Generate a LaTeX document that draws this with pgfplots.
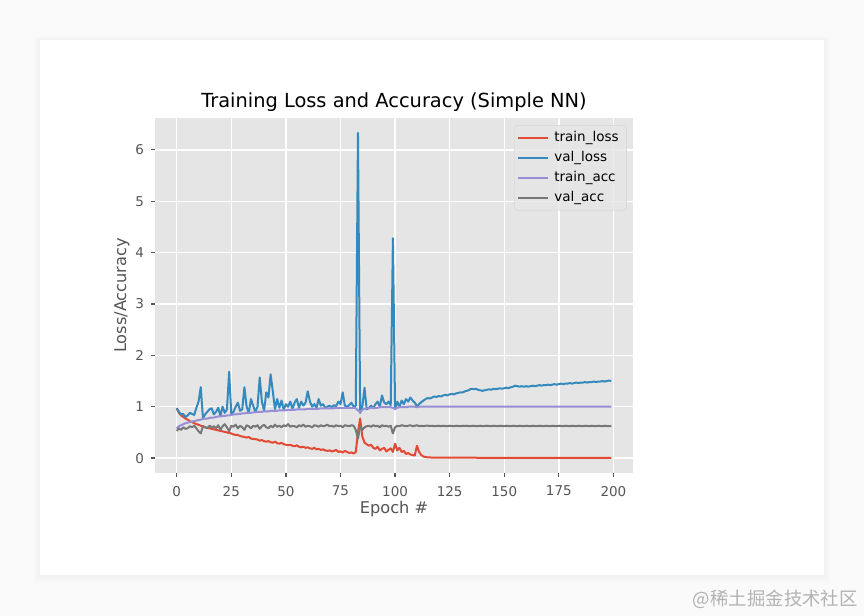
\documentclass[border=0pt]{standalone}
\usepackage{fontspec}
\setmainfont{DejaVu Sans}
\newfontfamily\cjk{Noto Sans CJK SC}
\usepackage{pgfplots}
\pgfplotsset{compat=1.18}
\usepackage{pgfplotstable}
\definecolor{ggbg}{HTML}{E5E5E5}
\definecolor{ggred}{HTML}{E24A33}
\definecolor{ggblue}{HTML}{348ABD}
\definecolor{ggpurple}{HTML}{988ED5}
\definecolor{gggray}{HTML}{777777}
\definecolor{ggtext}{HTML}{555555}

\pgfplotstableread{
e tl vl ta va
0 0.97 0.97 0.58 0.53
1 0.88 0.90 0.62 0.58
2 0.83 0.85 0.64 0.55
3 0.80 0.86 0.66 0.60
4 0.77 0.80 0.68 0.57
5 0.75 0.83 0.69 0.58
6 0.72 0.88 0.70 0.62
7 0.70 0.86 0.71 0.60
8 0.68 0.84 0.72 0.63
9 0.66 0.98 0.73 0.58
10 0.65 1.10 0.74 0.52
11 0.63 1.38 0.75 0.48
12 0.62 0.78 0.76 0.62
13 0.60 0.85 0.77 0.60
14 0.59 0.90 0.77 0.58
15 0.58 0.95 0.78 0.63
16 0.57 0.97 0.79 0.60
17 0.56 0.85 0.79 0.62
18 0.55 0.90 0.80 0.58
19 0.54 0.98 0.81 0.64
20 0.53 0.82 0.81 0.55
21 0.52 1.00 0.82 0.62
22 0.51 0.88 0.82 0.66
23 0.50 0.95 0.83 0.60
24 0.49 1.68 0.83 0.52
25 0.48 0.85 0.84 0.63
26 0.46 0.90 0.85 0.61
27 0.45 1.00 0.85 0.65
28 0.45 1.08 0.86 0.58
29 0.43 0.92 0.86 0.63
30 0.42 0.95 0.87 0.60
31 0.41 1.38 0.87 0.55
32 0.40 1.00 0.88 0.64
33 0.41 0.88 0.88 0.62
34 0.38 1.15 0.88 0.58
35 0.37 1.02 0.89 0.63
36 0.37 0.90 0.89 0.61
37 0.36 1.00 0.90 0.64
38 0.34 1.57 0.90 0.57
39 0.35 1.10 0.90 0.62
40 0.33 0.92 0.91 0.65
41 0.32 1.28 0.91 0.60
42 0.33 1.18 0.91 0.58
43 0.31 1.63 0.92 0.63
44 0.30 1.30 0.92 0.60
45 0.32 0.95 0.92 0.65
46 0.29 1.15 0.92 0.61
47 0.28 0.98 0.93 0.63
48 0.30 1.12 0.93 0.60
49 0.27 0.94 0.93 0.64
50 0.26 1.05 0.93 0.62
51 0.25 1.00 0.94 0.66
52 0.26 1.10 0.94 0.61
53 0.24 0.96 0.94 0.63
54 0.23 1.08 0.94 0.62
55 0.25 1.15 0.95 0.60
56 0.22 0.98 0.95 0.64
57 0.21 1.10 0.95 0.62
58 0.22 1.02 0.95 0.65
59 0.20 1.08 0.95 0.61
60 0.21 1.30 0.96 0.63
61 0.19 1.10 0.96 0.62
62 0.18 1.00 0.96 0.60
63 0.20 1.05 0.96 0.64
64 0.17 0.98 0.96 0.63
65 0.18 1.15 0.96 0.61
66 0.16 1.02 0.97 0.64
67 0.17 1.05 0.97 0.62
68 0.15 0.98 0.97 0.63
69 0.14 1.00 0.97 0.65
70 0.15 1.02 0.97 0.62
71 0.13 0.99 0.97 0.63
72 0.14 1.03 0.97 0.61
73 0.16 1.01 0.98 0.64
74 0.12 1.10 0.98 0.62
75 0.13 1.05 0.98 0.63
76 0.11 1.28 0.98 0.60
77 0.14 1.02 0.98 0.64
78 0.12 1.00 0.98 0.63
79 0.10 1.03 0.98 0.62
80 0.11 1.08 0.98 0.64
81 0.09 1.00 0.98 0.63
82 0.12 1.02 0.97 0.55
83 0.50 6.33 0.93 0.38
84 0.77 0.88 0.89 0.62
85 0.42 1.00 0.94 0.55
86 0.30 1.37 0.96 0.60
87 0.27 0.95 0.97 0.62
88 0.24 0.98 0.97 0.63
89 0.26 1.02 0.98 0.61
90 0.20 0.97 0.98 0.64
91 0.18 1.05 0.98 0.62
92 0.22 1.10 0.98 0.63
93 0.15 1.00 0.99 0.60
94 0.18 1.22 0.99 0.64
95 0.20 1.08 0.99 0.62
96 0.13 1.05 0.99 0.63
97 0.16 1.10 0.99 0.61
98 0.19 1.03 0.99 0.63
99 0.12 4.28 0.98 0.48
100 0.28 0.95 0.96 0.60
101 0.15 1.10 0.98 0.63
102 0.20 1.00 0.99 0.62
103 0.12 1.12 0.99 0.64
104 0.14 1.05 0.99 0.63
105 0.08 1.15 0.99 0.62
106 0.10 1.10 1.00 0.63
107 0.07 1.18 1.00 0.64
108 0.06 1.12 1.00 0.62
109 0.05 1.08 1.00 0.63
110 0.24 1.01 0.99 0.64
111 0.12 1.05 1.00 0.62
112 0.06 1.09 1.00 0.63
113 0.03 1.12 1.00 0.62
114 0.02 1.15 1.00 0.63
115 0.015 1.17 1.00 0.63
116 0.012 1.16 1.00 0.625
117 0.011 1.18 1.00 0.63
118 0.010 1.20 1.00 0.62
119 0.010 1.19 1.00 0.625
120 0.010 1.21 1.00 0.63
121 0.009 1.20 1.00 0.62
122 0.009 1.22 1.00 0.63
123 0.009 1.23 1.00 0.625
124 0.009 1.22 1.00 0.62
125 0.008 1.24 1.00 0.63
126 0.008 1.25 1.00 0.625
127 0.008 1.24 1.00 0.62
128 0.008 1.26 1.00 0.63
129 0.008 1.27 1.00 0.625
130 0.008 1.28 1.00 0.62
131 0.007 1.28 1.00 0.63
132 0.007 1.30 1.00 0.625
133 0.007 1.31 1.00 0.63
134 0.007 1.33 1.00 0.62
135 0.007 1.35 1.00 0.625
136 0.007 1.34 1.00 0.63
137 0.007 1.35 1.00 0.62
138 0.006 1.33 1.00 0.625
139 0.006 1.32 1.00 0.63
140 0.006 1.31 1.00 0.62
141 0.006 1.32 1.00 0.625
142 0.006 1.33 1.00 0.63
143 0.006 1.34 1.00 0.625
144 0.006 1.33 1.00 0.62
145 0.006 1.35 1.00 0.63
146 0.006 1.34 1.00 0.625
147 0.005 1.35 1.00 0.62
148 0.005 1.36 1.00 0.63
149 0.005 1.35 1.00 0.625
150 0.005 1.36 1.00 0.62
151 0.005 1.37 1.00 0.63
152 0.005 1.36 1.00 0.625
153 0.005 1.38 1.00 0.62
154 0.005 1.39 1.00 0.63
155 0.005 1.41 1.00 0.625
156 0.005 1.40 1.00 0.62
157 0.005 1.39 1.00 0.63
158 0.004 1.40 1.00 0.625
159 0.004 1.39 1.00 0.62
160 0.004 1.40 1.00 0.63
161 0.004 1.39 1.00 0.625
162 0.004 1.40 1.00 0.62
163 0.004 1.41 1.00 0.63
164 0.004 1.40 1.00 0.625
165 0.004 1.41 1.00 0.62
166 0.004 1.42 1.00 0.63
167 0.004 1.41 1.00 0.625
168 0.004 1.42 1.00 0.62
169 0.004 1.42 1.00 0.63
170 0.004 1.43 1.00 0.625
171 0.004 1.42 1.00 0.62
172 0.003 1.43 1.00 0.63
173 0.003 1.44 1.00 0.625
174 0.003 1.43 1.00 0.62
175 0.003 1.44 1.00 0.63
176 0.003 1.45 1.00 0.625
177 0.003 1.44 1.00 0.62
178 0.003 1.45 1.00 0.63
179 0.003 1.45 1.00 0.625
180 0.003 1.46 1.00 0.62
181 0.003 1.45 1.00 0.63
182 0.003 1.46 1.00 0.625
183 0.003 1.47 1.00 0.62
184 0.003 1.46 1.00 0.63
185 0.003 1.47 1.00 0.625
186 0.003 1.47 1.00 0.62
187 0.003 1.48 1.00 0.63
188 0.003 1.47 1.00 0.625
189 0.003 1.48 1.00 0.62
190 0.003 1.48 1.00 0.63
191 0.003 1.49 1.00 0.625
192 0.003 1.48 1.00 0.62
193 0.003 1.49 1.00 0.63
194 0.003 1.49 1.00 0.625
195 0.003 1.50 1.00 0.62
196 0.003 1.49 1.00 0.63
197 0.003 1.50 1.00 0.625
198 0.003 1.51 1.00 0.62
199 0.003 1.50 1.00 0.63
}\hist

\begin{document}
\begin{tikzpicture}[x=1pt,y=1pt]
\useasboundingbox (0,0) rectangle (432,308);
\fill[black!2] (0,0) rectangle (432,308);
\foreach \i in {1,...,4} {
  \fill[black, opacity=0.006] (20-\i*0.8,20.5-\i*1.0) rectangle (412+\i*0.8,288+\i*0.5);
}
\fill[white] (20,20.5) rectangle (412,288);
\begin{axis}[
  at={(77.5pt,71.5pt)}, anchor=south west,
  width=239pt, height=177.5pt, scale only axis,
  xmin=-9.95, xmax=208.95, ymin=-0.29, ymax=6.62,
  axis background/.style={fill=ggbg},
  axis line style={draw=none},
  grid=major, major grid style={white, line width=0.7pt},
  xtick={0,25,...,200}, ytick={0,1,2,3,4,5,6},
  tick align=outside, tick pos=left,
  major tick length=2pt,
  every tick/.style={ggtext, line width=0.6pt},
  tick label style={font=\fontsize{6.75}{8}\selectfont, color=ggtext},
  xticklabel style={yshift=-1pt},
  /pgf/number format/assume math mode=true,
  title={Training Loss and Accuracy (Simple NN)},
  every axis title/.style={at={(axis description cs:0.5,1.045)}, anchor=center, font=\fontsize{9.7}{11.5}\selectfont},
  xlabel={Epoch \#}, ylabel={Loss/Accuracy},
  every axis x label/.style={at={(axis description cs:0.5,-0.101)}, anchor=center, font=\fontsize{8.1}{10}\selectfont, text=ggtext},
  every axis y label/.style={at={(axis description cs:-0.069,0.5)}, rotate=90, anchor=center, font=\fontsize{8.1}{10}\selectfont, text=ggtext},
  legend style={at={(1,1)}, anchor=north east, xshift=-3pt, yshift=-3.5pt,
    fill=ggbg, fill opacity=0.8, text opacity=1, draw=black!15, rounded corners=1.5pt,
    font=\fontsize{6.75}{8}\selectfont, inner xsep=1.5pt, inner ysep=1pt, row sep=0pt,
    nodes={inner xsep=2.5pt, inner ysep=0pt, minimum height=10.1pt}},
  legend cell align=left,
  legend image code/.code={\draw[#1] (0pt,0pt) -- (15pt,0pt);},
]
\addplot[ggred, line width=1pt, line join=round] table[x=e,y=tl]{\hist};
\addlegendentry{train\_loss}
\addplot[ggblue, line width=1pt, line join=round] table[x=e,y=vl]{\hist};
\addlegendentry{val\_loss}
\addplot[ggpurple, line width=1pt, line join=round] table[x=e,y=ta]{\hist};
\addlegendentry{train\_acc}
\addplot[gggray, line width=1pt, line join=round] table[x=e,y=va]{\hist};
\addlegendentry{val\_acc}
\end{axis}
\node[anchor=east, text=black!30, inner sep=0pt] at (429,8.5) {\cjk\fontsize{9.2}{11}\selectfont @稀土掘金技术社区};
\end{tikzpicture}
\end{document}
